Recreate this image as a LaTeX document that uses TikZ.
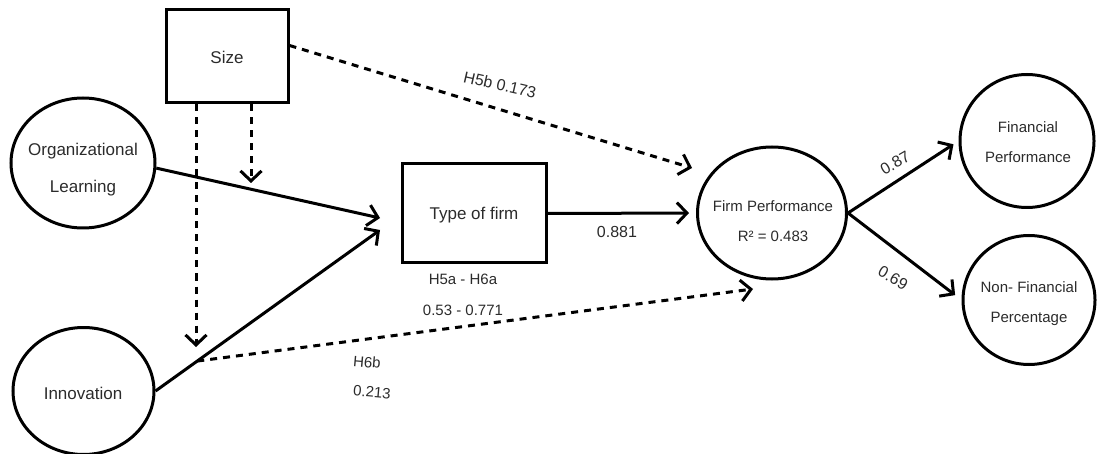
\documentclass[tikz,border=0pt]{standalone}
\usepackage{fontspec}
\setmainfont{Liberation Sans}
\usetikzlibrary{shapes.geometric,arrows.meta}
\definecolor{txt}{HTML}{2B2B2B}
\begin{document}
\begin{tikzpicture}[x=1pt,y=-1pt,
  line width=3pt,
  box/.style={draw,rectangle,line width=3pt,inner sep=0pt},
  oval/.style={draw,ellipse,line width=3pt,inner sep=0pt},
  bigtxt/.style={text=txt,font=\fontsize{17}{37}\selectfont,align=center,inner sep=0pt},
  midtxt/.style={text=txt,font=\fontsize{16}{30}\selectfont,align=center,inner sep=0pt},
  smalltxt/.style={text=txt,font=\fontsize{15}{30}\selectfont,align=center,inner sep=0pt},
  arr/.style={-{Straight Barb[length=10pt,width=21pt]},line width=3pt},
  dsh/.style={arr,dash pattern=on 7pt off 6pt}
]
\useasboundingbox (0,0) rectangle (1097,454);

% nodes
\node[box,minimum width=122pt,minimum height=93pt] (size) at (227,56.5) {};
\node[bigtxt] (sizet) at (227,57) {Size};
\node[oval,minimum width=144pt,minimum height=130pt] (org) at (83,163) {};
\node[bigtxt] (orgt) at (83,170) {Organizational\\Learning};
\node[oval,minimum width=141pt,minimum height=127pt] (inno) at (83.5,391) {};
\node[bigtxt] (innot) at (83,393) {Innovation};
\node[box,minimum width=144pt,minimum height=99pt] (type) at (474,213.5) {};
\node[bigtxt] (typet) at (474,215) {Type of firm};
\node[oval,minimum width=149pt,minimum height=132pt] (fp) at (772,213) {};
\node[smalltxt] (fpt) at (773,221) {Firm Performance\\R² = 0.483};
\node[oval,minimum width=134pt,minimum height=133pt] (fin) at (1027,141) {};
\node[smalltxt] (fint) at (1028,142.5) {Financial\\Performance};
\node[oval,minimum width=132pt,minimum height=129pt] (nonfin) at (1029,300) {};
\node[smalltxt] (nonfint) at (1029,304) {Non- Financial\\Percentage};

% free ends of connectors
\coordinate (fpTop) at (692,168);
\coordinate (fpBot) at (753,289);
\coordinate (typeA) at (380,218);
\coordinate (typeB) at (380,230);
\coordinate (innoMod) at (196,347);
\coordinate (orgMod) at (251,183);
\path (inno.east) -- (typeB) coordinate[pos=0.186] (h6start);

% connectors
\draw[arr] (org.-4) -- (typeA);
\draw[arr] (inno.east) -- (typeB);
\draw[dsh] (size.10) -- (fpTop);
\draw[dsh] (size.south -| innoMod) -- (innoMod);
\draw[dsh] (size.south -| orgMod) -- (orgMod);
\draw[dsh] (h6start) -- (fpBot);
\draw[arr,shorten >=7pt] (type.east) -- (fp.west);
\draw[arr,shorten >=6pt] (fp.east) -- (fin.west);
\draw[arr,shorten >=8pt] (fp.east) -- (nonfin.west);

% labels
\node[midtxt,rotate=-13] (h5b) at (500,85) {H5b 0.173};
\node[midtxt] (l881) at (617,232) {0.881};
\node[smalltxt] (h5a) at (463,279) {H5a - H6a};
\node[smalltxt] (l053) at (463,310) {0.53 - 0.771};
\node[smalltxt,rotate=-5] (h6b) at (367,362) {H6b};
\node[smalltxt,rotate=-5] (l213) at (372,392) {0.213};
\node[midtxt,rotate=30] (l87) at (895,163) {0.87};
\node[midtxt,rotate=-30] (l69) at (893,278) {0.69};
\end{tikzpicture}
\end{document}
